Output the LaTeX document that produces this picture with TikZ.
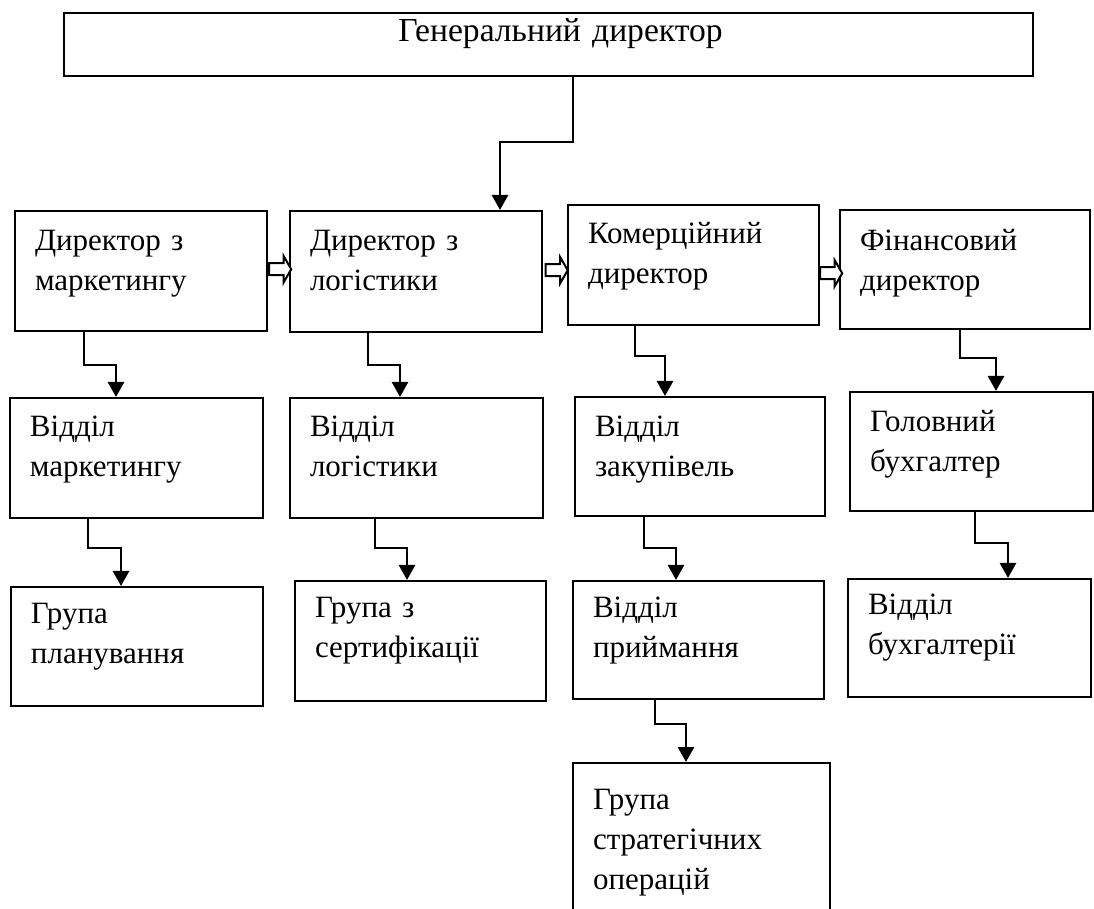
\documentclass[tikz,border=0pt]{standalone}
\usepackage{fontspec}
\setmainfont{Liberation Serif}
\usetikzlibrary{shapes,arrows.meta,calc}
\tikzstyle{unit} = [draw, line width=1pt, anchor=north west, align=left, inner xsep=10pt, inner ysep=0pt, text depth=32pt, font=\fontsize{15.5pt}{20pt}\selectfont]
\tikzstyle{link} = [draw, line width=1.4pt, -{Triangle[width=8pt,length=7.5pt]}]
\tikzstyle{pass} = [single arrow, draw, line width=1pt, fill=white, inner sep=2.5pt, minimum height=11pt, single arrow head extend=3.5pt, single arrow tip angle=120, single arrow head indent=0pt]

\begin{document}
\begin{tikzpicture}[x=0.5pt, y=-0.5pt]
\useasboundingbox (0,0) rectangle (1094,909);
\clip (0,0) rectangle (1094,909);

% units =============================

% top
\node[unit, minimum width=484.5pt, text width=464.5pt, align=center, text height=14.5pt, text depth=17pt, font=\fontsize{16.8pt}{20pt}\selectfont] (gd) at (63,12) {\hspace*{12pt}Генеральний директор};

% directors
\node[unit, minimum width=126pt, text width=106pt, minimum height=60pt, text depth=31pt] (dmark) at (14,210) {Директор з\\маркетингу};
\node[unit, minimum width=126pt, text width=106pt, minimum height=60.5pt, text depth=31pt] (dlog) at (289,210) {Директор з\\логістики};
\node[unit, minimum width=125.5pt, text width=105.5pt, minimum height=60pt, text depth=32pt] (dkom) at (567,204) {Комерційний\\директор};
\node[unit, minimum width=125pt, text width=105pt, minimum height=59.5pt, text depth=30pt] (dfin) at (839,209) {Фінансовий\\директор};

% departments
\node[unit, minimum width=126.5pt, text width=106.5pt, minimum height=60pt] (vmark) at (9,397) {Відділ\\маркетингу};
\node[unit, minimum width=126.5pt, text width=106.5pt, minimum height=60pt] (vlog) at (289,397) {Відділ\\логістики};
\node[unit, minimum width=125pt, text width=105pt, minimum height=59.5pt, text depth=30pt] (vzak) at (574,396) {Відділ\\закупівель};
\node[unit, minimum width=121.5pt, text width=101.5pt, minimum height=59.5pt, text depth=31pt] (gbuh) at (849,391) {Головний\\бухгалтер};

% groups
\node[unit, minimum width=126pt, text width=106pt, minimum height=59.5pt, text depth=33pt] (gplan) at (10,586) {Група\\планування};
\node[unit, minimum width=125.5pt, text width=105.5pt, minimum height=60pt, text depth=34pt] (gsert) at (294,580) {Група з\\сертифікації};
\node[unit, minimum width=125.5pt, text width=105.5pt, minimum height=59pt, text depth=33pt] (vpryj) at (572,580) {Відділ\\приймання};
\node[unit, minimum width=121.5pt, text width=101.5pt, minimum height=59pt, text depth=34pt] (vbuh) at (847,578) {Відділ\\бухгалтерії};
\node[unit, minimum width=128.5pt, text width=108.5pt, minimum height=79pt, text depth=43pt] (gstrat) at (572,762) {Група\\стратегічних\\операцій};

% links =============================

\path[link] ($(gd.south west)+(510,0)$) -- ++(0,65) -| ($(dlog.north west)+(211,0)$);
\path[link] ($(dmark.south west)+(70,0)$) -- ++(0,33) -| ($(vmark.north west)+(107,0)$);
\path[link] ($(dlog.south west)+(79,0)$) -- ++(0,32) -| ($(vlog.north west)+(111,0)$);
\path[link] ($(dkom.south west)+(68,0)$) -- ++(0,30) -| ($(vzak.north west)+(91,0)$);
\path[link] ($(dfin.south west)+(121,0)$) -- ++(0,28) -| ($(gbuh.north west)+(147,0)$);
\path[link] ($(vmark.south west)+(79,0)$) -- ++(0,29) -| ($(gplan.north west)+(111,0)$);
\path[link] ($(vlog.south west)+(86,0)$) -- ++(0,29) -| ($(gsert.north west)+(113,0)$);
\path[link] ($(vzak.south west)+(70,0)$) -- ++(0,31) -| ($(vpryj.north west)+(104,0)$);
\path[link] ($(gbuh.south west)+(126,0)$) -- ++(0,31) -| ($(vbuh.north west)+(161,0)$);
\path[link] ($(vpryj.south west)+(83,0)$) -- ++(0,24) -| ($(gstrat.north west)+(114,0)$);

% hand-over arrows
\node[pass] (p1) at ($(dmark.east)!0.5!(dlog.west)+(0,-2)$) {};
\node[pass] (p2) at ($(dlog.east)!0.5!(dkom.west)+(0,2)$) {};
\node[pass] (p3) at ($(dkom.east)!0.5!(dfin.west)+(0,6)$) {};

\end{tikzpicture}
\end{document}
